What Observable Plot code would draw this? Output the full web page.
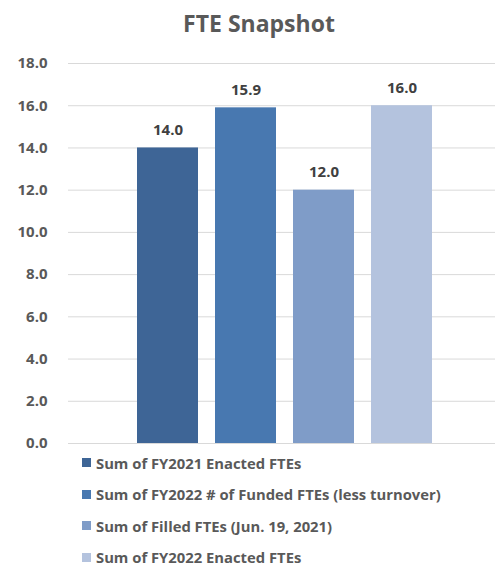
<!DOCTYPE html>
<html>
<head>
<meta charset="utf-8">
<script src="https://cdn.jsdelivr.net/npm/d3@7"></script>
<script src="https://cdn.jsdelivr.net/npm/@observablehq/plot@0.6"></script>
<style>
  html, body { margin: 0; padding: 0; background: #fff; }
  body { width: 495px; height: 566px; overflow: hidden; font-family: "Open Sans", Lato, sans-serif; }
  #title { height: 45px; box-sizing: border-box; padding-top: 10px; padding-left: 23px; text-align: center;
           font-weight: bold; font-size: 23px; line-height: 27px; color: #595959; }
  #legend { padding-left: 82px; margin-top: 0.5px; }
  .row { display: flex; align-items: center; height: 14px; margin-bottom: 17.5px; font-weight: bold; font-size: 14.8px; line-height: 14px; color: #595959; }
  .sw { width: 9px; height: 9px; margin-right: 5px; flex: none; }
</style>
</head>
<body>
<div id="title">FTE Snapshot</div>
<div id="chart"></div>
<div id="legend"></div>
<script>
const categories = [
  "Sum of FY2021 Enacted FTEs",
  "Sum of FY2022 # of Funded FTEs (less turnover)",
  "Sum of Filled FTEs (Jun. 19, 2021)",
  "Sum of FY2022 Enacted FTEs"
];
const values = [14.0, 15.9, 12.0, 16.0];
const colors = ["#3e6596", "#4878b0", "#7f9cc8", "#b4c3de"];
const yTicks = [0, 2, 4, 6, 8, 10, 12, 14, 16, 18];

const data = categories.map((c, i) => ({ category: c, value: values[i] }));

const chart = Plot.plot({
  width: 495,
  height: 410,
  marginTop: 18,
  marginBottom: 12,
  marginLeft: 68,
  marginRight: 0,
  style: { fontFamily: "'Open Sans', Lato, sans-serif", background: "#fff" },
  x: { type: "band", domain: categories, range: [127.25, 442.85], paddingInner: 0.214, paddingOuter: 0.107, axis: null },
  y: { domain: [0, 18], axis: null },
  color: { domain: categories, range: colors },
  marks: [
    Plot.ruleY(yTicks, { stroke: "#d9d9d9", strokeWidth: 1 }),
    Plot.barY(data, { x: "category", y: "value", fill: "category" }),
    Plot.axisY(yTicks, { tickSize: 0, tickPadding: 21, tickFormat: d => d.toFixed(1), fontSize: 15, fontWeight: "bold", fill: "#595959", label: null }),
    Plot.text(data, { x: "category", y: "value", text: d => d.value.toFixed(1), dy: -13, lineAnchor: "bottom", fontSize: 15, fontWeight: "bold", fill: "#404040" })
  ]
});
document.getElementById("chart").appendChild(chart);

const legend = document.getElementById("legend");
categories.forEach((c, i) => {
  const row = document.createElement("div");
  row.className = "row";
  const sw = document.createElement("span");
  sw.className = "sw";
  sw.style.background = colors[i];
  const t = document.createElement("span");
  t.textContent = c;
  row.appendChild(sw);
  row.appendChild(t);
  legend.appendChild(row);
});
</script>
</body>
</html>
